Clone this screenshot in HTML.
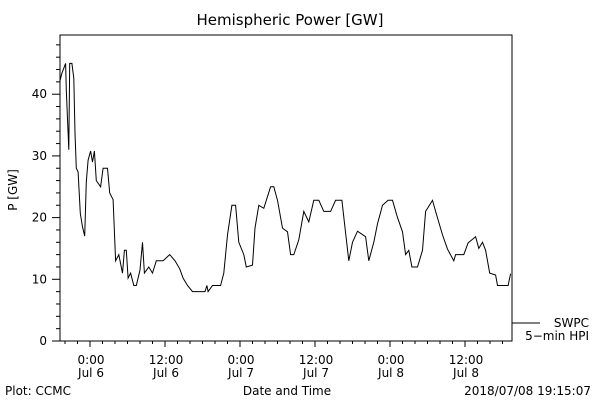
<!DOCTYPE html>
<html><head><meta charset="utf-8"><style>
body{margin:0;background:#fff;}
svg{display:block;font-family:"DejaVu Sans","Liberation Sans",sans-serif;}
text{fill:#000;font-size:12px;}
</style></head><body>
<svg id="chart" width="600" height="400" viewBox="0 0 600 400">
<rect width="600" height="400" fill="#fff"/>
<text x="290" y="25" text-anchor="middle" style="font-size:15px">Hemispheric Power [GW]</text>
<text transform="translate(17,190) rotate(-90)" text-anchor="middle">P [GW]</text>
<text x="287" y="395" text-anchor="middle">Date and Time</text>
<text x="5" y="395">Plot: CCMC</text>
<text x="591" y="395" text-anchor="end">2018/07/08 19:15:07</text>
<rect x="60" y="35" width="452" height="306" fill="none" stroke="#000" stroke-width="1"/>
<g id="yaxis"></g>
<g id="xaxis"></g>
<polyline id="series" fill="none" stroke="#000" stroke-width="1"/>
<line x1="512" y1="323" x2="540" y2="323" stroke="#000"/>
<text x="589" y="327" text-anchor="end">SWPC</text>
<text x="589" y="340" text-anchor="end">5−min HPI</text>
</svg>
<script>
const hours=[-4.85,-4.5,-3.9,-3.8,-3.6,-3.4,-3.25,-2.9,-2.6,-2.4,-2.2,-1.9,-1.55,-1.2,-0.85,-0.6,-0.3,0.1,0.4,0.7,1.0,1.7,2.1,2.8,3.15,3.7,4.1,4.6,5.2,5.5,5.8,6.1,6.5,7.0,7.4,8.0,8.4,8.7,9.4,10.0,10.6,11.7,12.75,13.6,14.35,14.9,15.6,16.4,18.4,18.7,18.9,19.6,20.9,21.4,22.0,22.7,23.3,23.8,24.6,25.0,26.0,26.4,27.0,27.8,28.9,29.4,30.0,30.8,31.6,32.1,32.6,33.4,34.2,35.0,35.8,36.6,37.4,38.5,39.3,40.3,40.9,41.4,42.0,42.8,44.1,44.6,45.4,46.0,46.8,47.7,48.4,49.2,50.0,50.5,51.0,51.5,52.4,53.2,53.7,54.8,55.3,56.4,57.2,58.2,58.5,59.8,60.5,61.7,62.2,62.8,63.3,63.95,64.9,65.2,66.9,67.3];
const power=[42,43.4,45,40.7,36,31,45,45,42.6,33.7,28,27.4,20.7,18.5,17,25.8,29.3,30.8,29,30.8,26,25,28,28,24,22.9,13,14,11,14.7,14.7,10.2,11,9,9,11.5,16,11,12,11,13,13,14,13,11.7,10.2,9,8,8,9,8,9,9,11,17.2,22,22,16,14,12,12.3,18.3,22,21.5,25,25,22.8,18.3,17.7,14,14,16.4,21,19.3,22.8,22.8,21,21,22.8,22.8,17.5,13,16,17.8,16.9,13,16,19,22,22.8,22.8,20,17.7,14,14.7,12,12,14.7,21,22.8,21,17.2,14.9,13,14,14,15.9,16.9,15,16,14.7,11,10.7,9,9,10.9];
const yTicks=[0,10,20,30,40];
const xTickLabels=[["0:00","Jul 6"],["12:00","Jul 6"],["0:00","Jul 7"],["12:00","Jul 7"],["0:00","Jul 8"],["12:00","Jul 8"]];
const xTickHours=[0,12,24,36,48,60];
const NS="http://www.w3.org/2000/svg";
const X=h=>90+h*6.25;
const Y=v=>341-v*6.17;
function mk(tag,attrs,parent){const e=document.createElementNS(NS,tag);for(const k in attrs)e.setAttribute(k,attrs[k]);parent.appendChild(e);return e;}
const ya=document.getElementById('yaxis');
for(let v=0;v<=48;v+=2){
  const major=v%10===0;
  const t=mk('line',{x1:major?52:56,x2:60,y1:Y(v),y2:Y(v),stroke:'#000'},ya);
  
  
}
yTicks.forEach(v=>{
  const t=mk('text',{x:47,y:Y(v)+4,'text-anchor':'end'},ya);
  t.textContent=v;
  
  
});
const xa=document.getElementById('xaxis');
for(let h=-4;h<=66;h+=2){
  const major=h%12===0;
  const t=mk('line',{x1:X(h),x2:X(h),y1:341,y2:major?347:344,stroke:'#000'},xa);
  
  
}
xTickHours.forEach((h,i)=>{
  const t1=mk('text',{x:X(h)+1,y:364,'text-anchor':'middle'},xa);
  t1.textContent=xTickLabels[i][0];
  
  
  const t2=mk('text',{x:X(h)+1,y:377,'text-anchor':'middle'},xa);
  t2.textContent=xTickLabels[i][1];
  
  
});
document.getElementById('series').setAttribute('points',hours.map((h,i)=>X(h).toFixed(1)+','+Y(power[i]).toFixed(1)).join(' '));
</script>
</body></html>
